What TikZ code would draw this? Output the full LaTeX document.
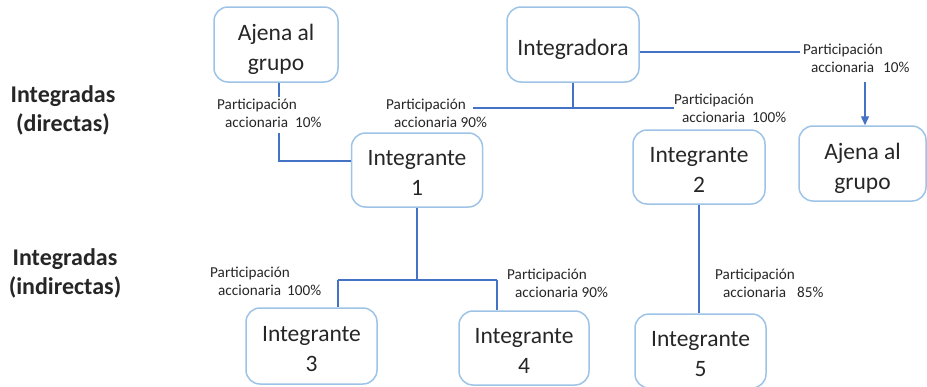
\documentclass[tikz,border=0pt]{standalone}
\usepackage{fontspec}
\setmainfont{Carlito}
\usetikzlibrary{arrows.meta}
\definecolor{boxc}{HTML}{9DC3E6}
\definecolor{linec}{HTML}{4472C4}
\definecolor{txt}{HTML}{262626}
\newcommand\bxtext[1]{\raisebox{-4.5pt}[\height][\depth]{\begin{tabular}{@{}c@{}}#1\end{tabular}}}
\begin{document}
\begin{tikzpicture}[x=1pt,y=-1pt,
  ent/.style={draw=boxc, line width=1.5pt, rounded corners=14pt, inner sep=0pt, font=\fontsize{23.5}{30}\selectfont, text=txt},
  conn/.style={draw=linec, line width=1.4pt},
  lab/.style={anchor=west, align=left, inner sep=0pt, font=\fontsize{15.2}{18}\selectfont, text=txt},
  lvl/.style={align=center, inner sep=0pt, font=\bfseries\fontsize{24}{29}\selectfont, text=txt}]
\useasboundingbox (0,0) rectangle (927,386);

% level labels
\node[lvl] (lv1) at (63,110) {Integradas\\(directas)};
\node[lvl] (lv2) at (65,273) {Integradas\\(indirectas)};

% entities
\node[ent, minimum width=124pt, minimum height=75pt] (aj1) at (276,44.5) {\bxtext{Ajena al\\grupo}};
\node[ent, minimum width=132pt, minimum height=75pt] (intg) at (573,44.5) {\bxtext{Integradora}};
\node[ent, minimum width=131pt, minimum height=74pt] (i1) at (417,170) {\bxtext{Integrante\\1}};
\node[ent, minimum width=132pt, minimum height=74pt] (i2) at (699,167) {\bxtext{Integrante\\2}};
\node[ent, minimum width=127pt, minimum height=75pt] (aj2) at (862.5,163.5) {\bxtext{Ajena al\\grupo}};
\node[ent, minimum width=131pt, minimum height=76pt] (i3) at (311.5,346) {\bxtext{Integrante\\3}};
\node[ent, minimum width=130pt, minimum height=74pt] (i4) at (524,348) {\bxtext{Integrante\\4}};
\node[ent, minimum width=131pt, minimum height=74pt] (i5) at (700.5,351) {\bxtext{Integrante\\5}};

% connector: ajena -> integrante 1
\coordinate (a1) at (279,97);
\coordinate (a2) at (279,133);
\draw[conn] (aj1.south -| a1) -- (a1);
\draw[conn] (a2) |- ([yshift=9pt]i1.west);

% integradora down
\coordinate (h1) at (473,108);
\coordinate (h2) at (674,108);
\draw[conn] (intg.south) -- (intg.south |- h1);
\draw[conn] (h1) -- (h2);

% integradora right
\coordinate (r1) at (800,52);
\coordinate (r2) at (865,82);
\draw[conn] (intg.east |- r1) -- (r1);
\draw[conn, -{Triangle[length=9pt,width=8pt]}] (r2) -- (aj2.north -| r2);

% integrante 1 tree
\coordinate (tl) at (338,280);
\coordinate (tr) at (497,280);
\draw[conn] (i1.south) -- (i1.south |- tl);
\draw[conn] (tl) -- (tr);
\draw[conn] (tl) -- (i3.north -| tl);
\draw[conn] (tr) -- (i4.north -| tr);

% integrante 2 -> 5
\draw[conn] (i2.south) -- (i5.north -| i2.south);

% labels
\node[lab] (l1) at (217,113) {Participación\\\hspace*{8pt}accionaria\hspace{7pt}10\%};
\node[lab] (l2) at (386,113) {Participación\\\hspace*{8pt}accionaria 90\%};
\node[lab] (l3) at (674,108) {Participación\\\hspace*{8pt}accionaria\hspace{7pt}100\%};
\node[lab] (l4) at (803,58) {Participación\\\hspace*{8pt}accionaria\hspace{9pt}10\%};
\node[lab] (l5) at (210,281.5) {Participación\\\hspace*{8pt}accionaria\hspace{6pt}100\%};
\node[lab] (l6) at (507,283.5) {Participación\\\hspace*{8pt}accionaria 90\%};
\node[lab] (l7) at (715,283.5) {Participación\\\hspace*{8pt}accionaria\hspace{11pt}85\%};
\end{tikzpicture}
\end{document}
